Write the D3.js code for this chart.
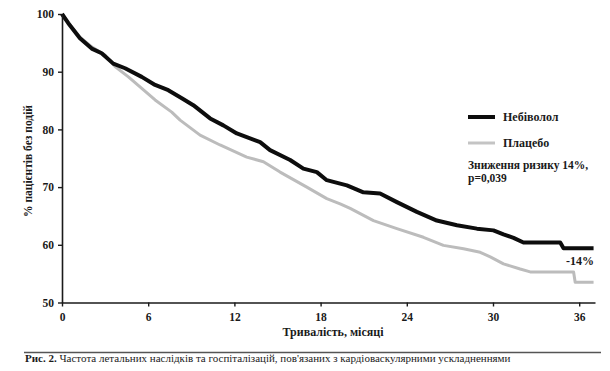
<!DOCTYPE html>
<html>
<head>
<meta charset="utf-8">
<script src="https://cdn.jsdelivr.net/npm/d3@7"></script>
<style>
  body { margin: 0; background: #fff; }
  svg { display: block; }
  .tick text { font-family: "Liberation Serif", serif; font-weight: bold; font-size: 11.5px; fill: #1a1a1a; }
  .lbl { font-family: "Liberation Serif", serif; font-weight: bold; font-size: 12px; fill: #1a1a1a; }
</style>
</head>
<body>
<div id="chart"></div>
<script>
// місяці та % пацієнтів без подій
const nebMonths = [0, 0.44, 1.25, 2.07, 2.76, 3.57, 4.39, 5.55, 6.48, 7.4, 8.34, 9.14, 10.31, 11.23, 12.17, 13.79, 14.48, 15.88, 16.8, 17.74, 18.43, 19.36, 19.83, 20.98, 22.14, 23.31, 24.7, 26.09, 27.49, 28.88, 30.03, 30.73, 31.43, 32.12, 34.68, 34.91, 37]
const nebValues = [100, 98.4, 95.8, 94.0, 93.2, 91.4, 90.6, 89.1, 87.7, 86.8, 85.4, 84.2, 81.9, 80.7, 79.3, 77.8, 76.4, 74.7, 73.2, 72.6, 71.2, 70.6, 70.3, 69.1, 68.9, 67.4, 65.7, 64.2, 63.4, 62.8, 62.5, 61.8, 61.2, 60.4, 60.4, 59.4, 59.4]

const placMonths = [0, 0.4, 1.25, 2.07, 2.99, 3.69, 4.62, 5.55, 6.48, 7.64, 8.22, 9.61, 11.0, 12.86, 14.02, 15.18, 17.04, 18.43, 19.36, 20.06, 21.68, 23.31, 25.16, 26.55, 27.95, 29.11, 29.81, 30.73, 31.89, 32.59, 35.61, 35.72, 37]
const placValues = [100, 98.6, 96.0, 94.3, 92.9, 90.9, 89.1, 87.1, 85.1, 83.0, 81.6, 79.0, 77.3, 75.2, 74.4, 72.6, 70.0, 68.0, 67.1, 66.3, 64.2, 62.8, 61.3, 59.9, 59.3, 58.7, 57.9, 56.7, 55.8, 55.3, 55.3, 53.5, 53.5]

const xTicks = [0, 6, 12, 18, 24, 30, 36]
const yTicks = [50, 60, 70, 80, 90, 100]

const width = 610
const height = 371

const svg = d3.select("#chart").append("svg")
    .attr("width", width)
    .attr("height", height)

const x = d3.scaleLinear().domain([0, 37.1]).range([62, 595])
const y = d3.scaleLinear().domain([50, 100]).range([302.5, 14])

const line = d3.line()
    .x(d => x(d[0]))
    .y(d => y(d[1]))

const neb = nebMonths.map((m, i) => [m, nebValues[i]])
const plac = placMonths.map((m, i) => [m, placValues[i]])

svg.append("path")
    .datum(plac)
    .attr("d", line)
    .attr("fill", "none")
    .attr("stroke", "#bcbcbc")
    .attr("stroke-width", 3)
    .attr("stroke-linejoin", "round")

svg.append("path")
    .datum(neb)
    .attr("d", line)
    .attr("fill", "none")
    .attr("stroke", "#0d0d0d")
    .attr("stroke-width", 4)
    .attr("stroke-linejoin", "round")

svg.append("g")
    .attr("transform", `translate(0,${y(50)})`)
    .call(d3.axisBottom(x).tickValues(xTicks).tickFormat(d3.format("d")).tickSize(4).tickSizeOuter(0).tickPadding(6))
svg.append("g")
    .attr("transform", `translate(${x(0)},0)`)
    .call(d3.axisLeft(y).tickValues(yTicks).tickFormat(d3.format("d")).tickSize(4).tickSizeOuter(0).tickPadding(4))

svg.selectAll(".domain").attr("stroke", "#1a1a1a").attr("stroke-width", 1.6)
svg.selectAll(".tick line").attr("stroke", "#1a1a1a").attr("stroke-width", 1.4)

// підписи осей
svg.append("text")
    .attr("class", "lbl")
    .style("font-size", "11.5px")
    .attr("transform", "translate(32,161) rotate(-90)")
    .attr("text-anchor", "middle")
    .text("% пацієнтів без подій")

svg.append("text")
    .attr("class", "lbl")
    .attr("x", 333)
    .attr("y", 336)
    .attr("text-anchor", "middle")
    .text("Тривалість, місяці")

// легенда
svg.append("line")
    .attr("x1", 468).attr("x2", 495).attr("y1", 117).attr("y2", 117)
    .attr("stroke", "#0d0d0d").attr("stroke-width", 4)
svg.append("text").attr("class", "lbl").attr("x", 503).attr("y", 121).text("Небіволол")

svg.append("line")
    .attr("x1", 468).attr("x2", 495).attr("y1", 143).attr("y2", 143)
    .attr("stroke", "#c4c4c4").attr("stroke-width", 3)
svg.append("text").attr("class", "lbl").attr("x", 503).attr("y", 147).text("Плацебо")

svg.append("text").attr("class", "lbl").style("font-size", "11.5px").attr("x", 468).attr("y", 169).text("Зниження ризику 14%,")
svg.append("text").attr("class", "lbl").style("font-size", "11.5px").attr("x", 468).attr("y", 182).text("p=0,039")

svg.append("text").attr("class", "lbl").attr("x", 566).attr("y", 265).text("-14%")

// підпис до рисунка
svg.append("line")
    .attr("x1", 24).attr("x2", 601).attr("y1", 352.5).attr("y2", 352.5)
    .attr("stroke", "#555").attr("stroke-width", 1.5)

const caption = svg.append("text")
    .attr("x", 25).attr("y", 362)
    .style("font-family", "Liberation Serif, serif")
    .style("font-size", "11px")
    .style("fill", "#1a1a1a")
caption.append("tspan").style("font-weight", "bold").text("Рис. 2.")
caption.append("tspan").text(" Частота летальних наслідків та госпіталізацій, пов'язаних з кардіоваскулярними ускладненнями")
</script>
</body>
</html>
